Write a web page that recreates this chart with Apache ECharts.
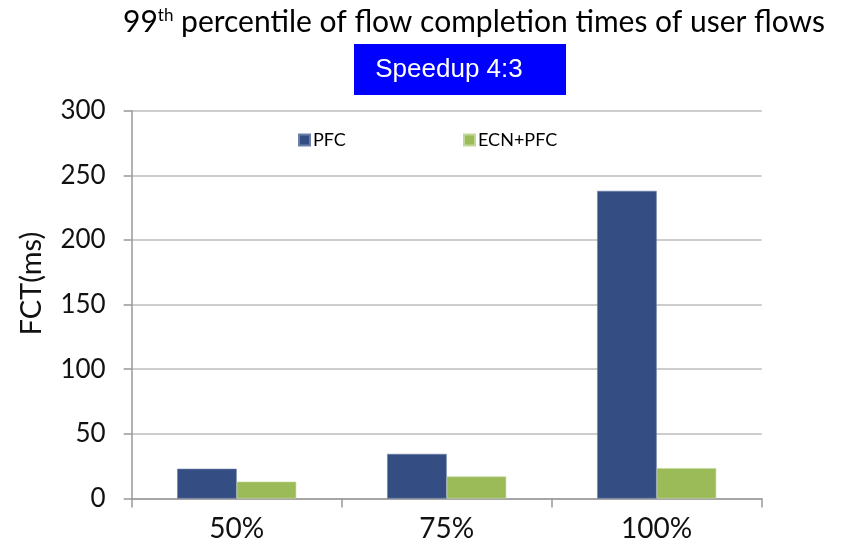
<!DOCTYPE html>
<html>
<head>
<meta charset="utf-8">
<script src="https://cdn.jsdelivr.net/npm/echarts@6/dist/echarts.min.js"></script>
<style>html,body{margin:0;padding:0;background:#fff;}#c{width:845px;height:549px;}</style>
</head>
<body>
<div id="c"></div>
<script>
var categories = ['50%', '75%', '100%'];
var pfc = [23, 34.5, 238];
var ecnPfc = [13, 17, 23.5];
var yTicks = [0, 50, 100, 150, 200, 250, 300];

var chart = echarts.init(document.getElementById('c'));
chart.setOption({
  animation: false,
  backgroundColor: '#fff',
  graphic: [
    {
      type: 'text', x: 474, y: 22,
      style: {
        text: '{a|99}{s|th}{a| percentile of flow completion times of user flows}',
        align: 'center', verticalAlign: 'middle',
        fill: '#000',
        rich: {
          a: { fontFamily: 'Lato', fontSize: 30, fill: '#000' },
          s: { fontFamily: 'Lato', fontSize: 17, fill: '#000', verticalAlign: 'top', padding: [0, 0, 13, 0] }
        }
      }
    },
    { type: 'rect', shape: { x: 354, y: 44, width: 212, height: 51 }, style: { fill: '#0000ff' } },
    {
      type: 'text', x: 449, y: 70,
      style: { text: 'Speedup 4:3', fontFamily: 'Liberation Sans', fontSize: 26, fill: '#fff', align: 'center', verticalAlign: 'middle' }
    }
  ],
  legend: [
    {
      data: ['PFC'], left: 298, top: 131, padding: 0, itemWidth: 11, itemHeight: 11, itemGap: 5,
      icon: 'rect', textStyle: { fontFamily: 'Lato', fontSize: 18, color: '#000', padding: [0, 0, 0, -2] }
    },
    {
      data: ['ECN+PFC'], left: 463, top: 131, padding: 0, itemWidth: 11, itemHeight: 11, itemGap: 5,
      icon: 'rect', textStyle: { fontFamily: 'Lato', fontSize: 18, color: '#000', padding: [0, 0, 0, -2] }
    }
  ],
  grid: { left: 131.7, right: 83.3, top: 110.7, bottom: 50.5, containLabel: false },
  xAxis: {
    type: 'category', data: categories,
    axisLine: { lineStyle: { color: '#999', width: 1.5 } },
    axisTick: { show: true, length: 9, lineStyle: { color: '#999', width: 1.5 } },
    axisLabel: { fontFamily: 'Lato', fontSize: 28, color: '#111', margin: 16 }
  },
  yAxis: {
    type: 'value', min: 0, max: 300, interval: 50,
    name: 'FCT(ms)', nameLocation: 'middle', nameGap: 86, nameRotate: 90,
    nameTextStyle: { fontFamily: 'Lato', fontSize: 29, color: '#111', padding: [0, 0, 0, 42] },
    axisLine: { show: true, lineStyle: { color: '#999', width: 1.5 } },
    axisTick: { show: true, length: 8, lineStyle: { color: '#999', width: 1.5 } },
    axisLabel: {
      fontFamily: 'Lato', fontSize: 26, color: '#111', margin: 26,
      formatter: function (v) { return yTicks.indexOf(v) >= 0 ? String(v) : ''; }
    },
    splitLine: { show: true, lineStyle: { color: '#bdbdbd', width: 1.5 } }
  },
  series: [
    {
      name: 'PFC', type: 'bar', data: pfc, barGap: '0%', barCategoryGap: '43.3%',
      itemStyle: { color: '#344e84', borderColor: '#6d7fa6', borderWidth: 0.6 }
    },
    {
      name: 'ECN+PFC', type: 'bar', data: ecnPfc,
      itemStyle: { color: '#9bbb59', borderColor: '#c2d79a', borderWidth: 0.6 }
    }
  ]
});
</script>
</body>
</html>
